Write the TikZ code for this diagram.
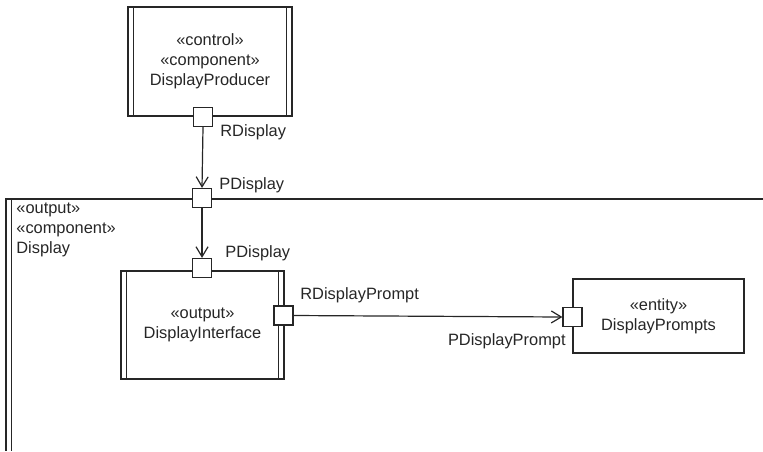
\documentclass[tikz,border=0pt]{standalone}
\usepackage{fontspec}
\setmainfont{Liberation Sans}
\usetikzlibrary{positioning, arrows.meta}

\tikzset{
    comp/.style={draw, rectangle, line width=0.6pt, align=center, inner sep=0pt,
        path picture={
            \draw[line width=0.6pt] ([xshift=2.6pt]path picture bounding box.north west) -- ([xshift=2.6pt]path picture bounding box.south west);
            \draw[line width=0.6pt] ([xshift=-2.6pt]path picture bounding box.north east) -- ([xshift=-2.6pt]path picture bounding box.south east);
        }},
    plainbox/.style={draw, rectangle, line width=0.6pt, align=center, inner sep=0pt},
    port/.style={draw, rectangle, fill=white, line width=0.6pt, minimum size=9.5pt, inner sep=0pt},
    lbl/.style={inner sep=0pt},
    conn/.style={line width=0.6pt, -{Straight Barb[length=5pt,width=6pt]}}
}

\begin{document}
\begin{tikzpicture}[x=0.5pt, y=-0.5pt, font=\fontsize{8.2}{10}\selectfont, color=black!85]
    \useasboundingbox (0,0) rectangle (763,451);

    % Display frame (runs off the picture to the right and below)
    \draw[line width=0.6pt] (763,199) -- (6,199) -- (6,451);
    \draw[line width=0.6pt] (11.7,199) -- (11.7,451);
    \node[lbl, anchor=west, align=left] (displayname) at (16,229.5) {«output»\\«component»\\Display};

    % Components
    \node[comp, minimum width=82pt, minimum height=54.5pt] (producer) at (210,61.5)
        {«control»\\«component»\\DisplayProducer};
    \node[comp, minimum width=81.5pt, minimum height=54pt] (iface) at (202.5,325)
        {«output»\\DisplayInterface};
    \node[plainbox, minimum width=85.5pt, minimum height=37pt] (prompts) at (658.5,316)
        {«entity»\\DisplayPrompts};

    % Ports
    \node[port] (rdisp) at (203,117) {};
    \node[port] (pdisp) at (202,198) {};
    \node[port] (pdispin) at (202,268) {};
    \node[port] (rprompt) at (283.5,315.5) {};
    \node[port] (pprompt) at (572.5,317) {};

    % Port labels
    \node[lbl, anchor=west] (rdisplbl) at (220,132) {RDisplay};
    \node[lbl, anchor=west] (pdisplbl) at (219,185) {PDisplay};
    \node[lbl, anchor=west] (pdispinlbl) at (225,253) {PDisplay};
    \node[lbl, anchor=west] (rpromptlbl) at (300,295) {RDisplayPrompt};
    \node[lbl, anchor=east] (ppromptlbl) at (566,341) {PDisplayPrompt};

    % Connectors
    \draw[conn] (rdisp.south) -- (pdisp.north);
    \draw[conn] (pdisp.south) -- (pdispin.north);
    \draw[conn] (rprompt.east) -- (pprompt.west);
\end{tikzpicture}
\end{document}
